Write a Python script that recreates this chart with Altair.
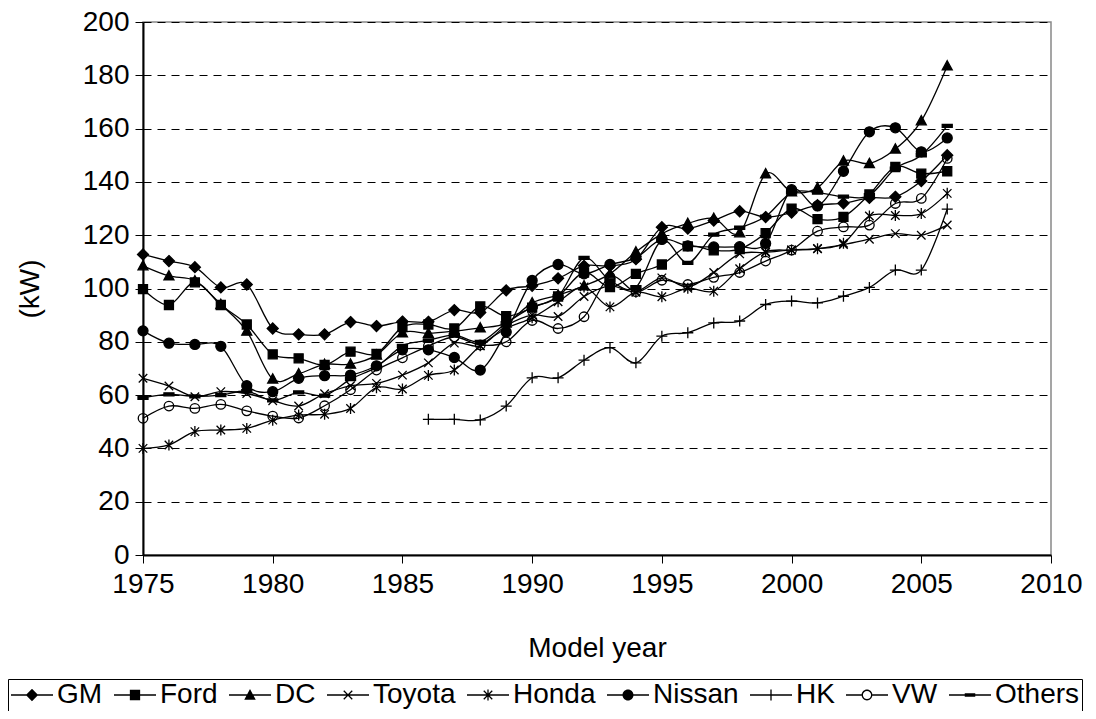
import math
import altair as alt
import pandas as pd

years = list(range(1975, 2007))
hk_years = list(range(1986, 2007))

series_names = ["GM", "Ford", "DC", "Toyota", "Honda", "Nissan", "HK", "VW", "Others"]

gm = [112.8, 110.3, 108.0, 100.4, 101.5, 85.0, 82.8, 82.8, 87.4, 85.9, 87.6, 87.5, 91.9, 91.0, 99.3, 101.0,
      103.8, 108.5, 108.5, 111.0, 123.0, 122.5, 125.5, 129.0, 126.8, 128.5, 131.3, 132.0, 134.0, 134.4, 140.3, 150.0]
ford = [99.8, 93.8, 102.3, 93.8, 86.5, 75.3, 73.8, 71.3, 76.3, 75.5, 85.5, 86.5, 85.0, 93.3, 89.6, 92.8,
        97.0, 106.0, 100.5, 105.5, 109.0, 115.8, 114.3, 114.8, 120.8, 130.0, 126.0, 126.9, 135.3, 145.6, 143.1, 144.0]
dc = [108.5, 104.7, 102.9, 94.0, 84.0, 66.0, 68.0, 71.5, 71.6, 75.0, 83.4, 83.2, 84.0, 85.2, 87.0, 94.6,
      97.5, 101.0, 105.5, 113.7, 120.5, 124.4, 126.3, 120.9, 143.0, 136.3, 137.8, 147.8, 146.9, 152.3, 162.9, 183.5]
toyota = [66.3, 63.4, 59.4, 61.3, 60.6, 57.9, 55.9, 60.5, 63.5, 64.4, 67.5, 72.1, 79.5, 78.5, 86.0, 90.0,
          89.5, 97.0, 101.0, 98.8, 104.0, 100.6, 106.0, 113.0, 113.5, 114.5, 115.0, 116.5, 118.5, 120.6, 120.0, 123.8]
honda = [40.0, 41.3, 46.3, 46.9, 47.5, 50.6, 52.5, 52.8, 55.0, 62.8, 62.3, 67.4, 69.4, 78.5, 85.0, 89.0,
         95.0, 100.6, 93.1, 98.6, 96.9, 100.1, 99.0, 107.4, 113.8, 114.4, 114.9, 117.0, 127.2, 127.4, 128.1, 135.7]
nissan = [84.1, 79.5, 79.0, 78.3, 63.5, 61.3, 66.3, 67.3, 67.5, 71.0, 77.0, 77.0, 74.1, 69.4, 83.7, 103.0,
          109.0, 105.5, 109.0, 111.5, 118.4, 116.0, 115.6, 115.7, 116.9, 137.1, 131.0, 144.0, 158.8, 160.3, 151.3, 156.5]
hk = [50.9, 50.9, 50.7, 55.9, 66.5, 66.5, 73.1, 77.8, 72.1, 82.1, 83.4, 87.1, 87.8, 94.0, 95.3, 94.6,
      97.1, 100.4, 106.9, 106.9, 129.8]
vw = [51.3, 55.9, 55.0, 56.5, 54.1, 52.1, 51.4, 56.0, 62.0, 69.4, 74.0, 78.4, 81.8, 78.8, 80.0, 88.0,
      85.0, 89.4, 104.4, 98.8, 103.1, 101.5, 104.2, 106.0, 110.3, 114.4, 121.5, 123.1, 123.8, 131.9, 133.8, 148.8]
others = [59.0, 60.3, 59.5, 60.0, 61.5, 58.0, 61.0, 59.8, 66.0, 70.5, 78.5, 80.5, 82.5, 80.0, 87.0, 93.0,
          97.0, 111.5, 103.0, 100.5, 118.0, 109.6, 120.2, 122.8, 127.0, 136.0, 136.0, 134.5, 135.0, 145.0, 150.0, 161.0]

x_ticks = [1975, 1980, 1985, 1990, 1995, 2000, 2005, 2010]
y_ticks = list(range(0, 201, 20))

series_data = [
    ("GM", years, gm), ("Ford", years, ford), ("DC", years, dc), ("Toyota", years, toyota),
    ("Honda", years, honda), ("Nissan", years, nissan), ("HK", hk_years, hk),
    ("VW", years, vw), ("Others", years, others),
]
rows = []
for name, yrs, vals in series_data:
    for yr, v in zip(yrs, vals):
        rows.append({"year": yr, "kw": v, "series": name})
df = pd.DataFrame(rows)

# ---- marker glyphs for the plot (unit square, stroked + filled black) ----
circle_cw = "M-0.95,0A0.95,0.95 0 1,1 0.95,0A0.95,0.95 0 1,1 -0.95,0Z"
circle_ccw = "M-0.95,0A0.95,0.95 0 1,0 0.95,0A0.95,0.95 0 1,0 -0.95,0Z"
markers = {
    "GM": "M0,-1.1L1.1,0L0,1.1L-1.1,0Z",
    "Ford": "M-0.9,-0.9L0.9,-0.9L0.9,0.9L-0.9,0.9Z",
    "DC": "M0,-1.05L1,0.8L-1,0.8Z",
    "Toyota": "M-0.85,-0.85L0.85,0.85M-0.85,0.85L0.85,-0.85",
    "Honda": "M-0.85,-0.85L0.85,0.85M-0.85,0.85L0.85,-0.85M0,-1.1L0,1.1",
    "Nissan": "M-1,0A1,1 0 1,1 1,0A1,1 0 1,1 -1,0Z",
    "HK": "M-1.1,0L1.1,0M0,-1.1L0,1.1",
    "VW": circle_cw + circle_ccw,
    "Others": "M-1,-0.3L1,-0.3L1,0.3L-1,0.3Z",
}
marker_range = [markers[s] for s in series_names]


# ---- legend glyphs: fill-only outlines (line segment + marker) ----
def f(v):
    return ("%.3f" % v).rstrip("0").rstrip(".")


def bar(x1, y1, x2, y2, hw=0.13):
    dx, dy = x2 - x1, y2 - y1
    ln = math.hypot(dx, dy)
    nx, ny = -dy / ln * hw, dx / ln * hw
    pts = [(x1 - nx, y1 - ny), (x2 - nx, y2 - ny), (x2 + nx, y2 + ny), (x1 + nx, y1 + ny)]
    return "M" + "L".join(f"{f(a)},{f(b)}" for a, b in pts) + "Z"


def circ(r, cw=True):
    s = 1 if cw else 0
    return f"M{f(-r)},0A{f(r)},{f(r)} 0 1,{s} {f(r)},0A{f(r)},{f(r)} 0 1,{s} {f(-r)},0Z"


L = 4.2
full_line = bar(-L, 0, L, 0)
legend_glyph = {
    "GM": full_line + "M0,-1.23L1.23,0L0,1.23L-1.23,0Z",
    "Ford": full_line + "M-1.03,-1.03L1.03,-1.03L1.03,1.03L-1.03,1.03Z",
    "DC": full_line + "M0,-1.2L1.15,0.93L-1.15,0.93Z",
    "Toyota": full_line + bar(-0.85, -0.85, 0.85, 0.85) + bar(-0.85, 0.85, 0.85, -0.85),
    "Honda": full_line + bar(-0.85, -0.85, 0.85, 0.85) + bar(-0.85, 0.85, 0.85, -0.85) + bar(0, -1.1, 0, 1.1),
    "Nissan": full_line + circ(1.1),
    "HK": full_line + bar(0, -1.1, 0, 1.1),
    "VW": bar(-L, 0, -1.08, 0) + bar(1.08, 0, L, 0) + circ(1.08, True) + circ(0.82, False),
    "Others": full_line + "M-1.05,-0.35L1.05,-0.35L1.05,0.35L-1.05,0.35Z",
}
legend_range = [legend_glyph[s] for s in series_names]

FONT = "Liberation Sans"

x_enc = alt.X(
    "year:Q",
    scale=alt.Scale(domain=[1975, 2010], nice=False, zero=False),
    axis=alt.Axis(values=x_ticks, format="d", title="Model year", grid=False, labelFlush=False,
                  tickSize=8, labelPadding=7, titleX=454, titleY=101,
                  titleBaseline="alphabetic", titleAlign="center"),
)
y_enc = alt.Y(
    "kw:Q",
    scale=alt.Scale(domain=[0, 200], nice=False),
    axis=alt.Axis(values=y_ticks, title="(kW)", grid=True, gridDash=[8, 6], gridColor="black",
                  gridWidth=1, tickSize=8, labelPadding=6, labelFlush=False,
                  titleX=-113, titleY=266.5,
                  titleAngle=270, titleBaseline="middle", titleAlign="center"),
)

base = alt.Chart(df)

lines = base.mark_line(interpolate="cardinal", color="black", strokeWidth=1.3).encode(
    x=x_enc, y=y_enc, detail="series:N"
)

points = base.mark_point(filled=False, fill="black", stroke="black", strokeWidth=1.3,
                         opacity=1, size=100).encode(
    x=x_enc, y=y_enc,
    shape=alt.Shape("series:N", scale=alt.Scale(domain=series_names, range=marker_range), legend=None),
)

legend_layer = base.transform_filter("datum.kw < 0").mark_point(
    filled=True, fill="black", color="black", opacity=1, size=100
).encode(
    x=x_enc, y=y_enc,
    shape=alt.Shape(
        "series:N",
        scale=alt.Scale(domain=series_names, range=legend_range),
        legend=alt.Legend(
            orient="none", legendX=-135, legendY=657, direction="horizontal", columns=9,
            title=None, labelFontSize=28, labelFont=FONT, labelColor="black",
            symbolSize=100, symbolStrokeWidth=0, symbolOffset=8, labelOffset=11,
            columnPadding=10, padding=2, strokeColor="black",
            symbolFillColor="black", symbolOpacity=1,
        ),
    ),
)

chart = alt.layer(lines, points, legend_layer).resolve_scale(shape="independent").properties(
    width=908, height=533,
    autosize=alt.AutoSizeParams(type="none"),
    padding={"left": 135, "top": 14, "right": 37, "bottom": 156},
).configure(font=FONT).configure_axis(
    labelFont=FONT, titleFont=FONT, labelFontSize=28, titleFontSize=28,
    titleFontWeight="normal", labelColor="black", titleColor="black",
    domainColor="black", domainWidth=2, tickColor="black", tickWidth=1,
).configure_view(stroke="#888888", strokeWidth=1.5)

chart.save("out.html", embed_options={"renderer": "svg", "actions": False})
